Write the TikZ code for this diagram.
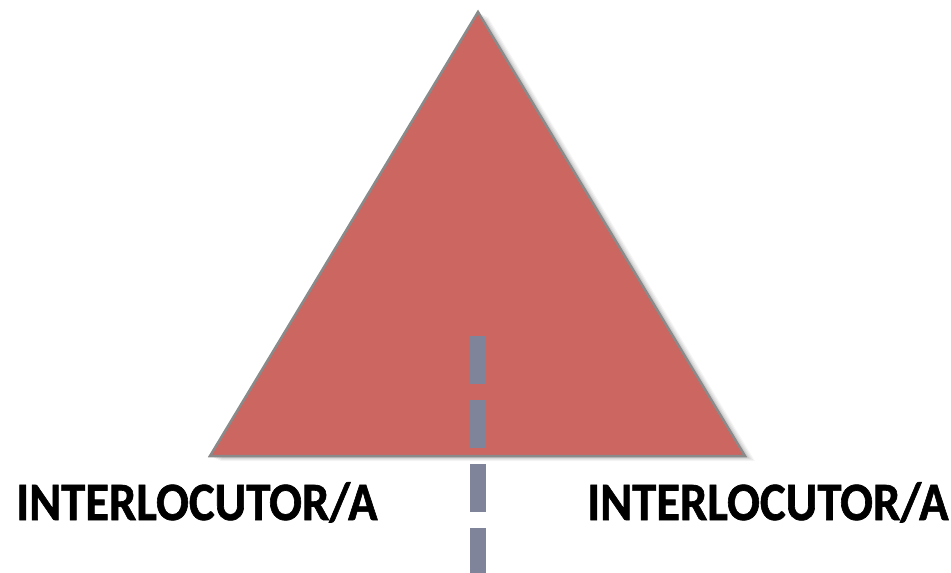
\documentclass[tikz,border=0pt]{standalone}
\usepackage{fontspec}
\setmainfont{Carlito}[BoldFeatures={FakeBold=1.2}]
\definecolor{tri}{HTML}{CB6660}
\definecolor{triedge}{HTML}{8A8A8A}
\definecolor{dashc}{HTML}{7F849B}
\tikzset{
  lbl/.style={font=\fontsize{54}{60}\selectfont\bfseries, inner sep=0pt, anchor=base west},
  trishape/.style={fill=tri, draw=triedge, line width=2.5pt, line join=miter},
  axis/.style={draw=dashc, line width=16pt, dash pattern=on 48pt off 16pt}
}
\begin{document}
\begin{tikzpicture}[x=1pt,y=-1pt]
\useasboundingbox (0,0) rectangle (951,573);
% shadow
\foreach \o/\op in {10/0.04,8/0.05,6/0.06,4/0.08}{
  \fill[black,opacity=\op] (478+\o,12+\o*0.5) -- (745+\o,456+\o*0.5) -- (210+\o,456+\o*0.5) -- cycle;
}
\coordinate (apex) at (478,12);
\coordinate (bl) at (210,456);
\coordinate (br) at (745,456);
\path[trishape] (apex) -- (br) -- (bl) -- cycle;
\coordinate (dtop) at (478,336);
\coordinate (dbot) at (478,580);
\draw[axis] (dtop) -- (dbot);
\node[lbl] (l) at (16,520) {\scalebox{0.9}[1]{INTERLOCUTOR/A}};
\node[lbl] (r) at (587,520) {\scalebox{0.9}[1]{INTERLOCUTOR/A}};
\end{tikzpicture}
\end{document}
